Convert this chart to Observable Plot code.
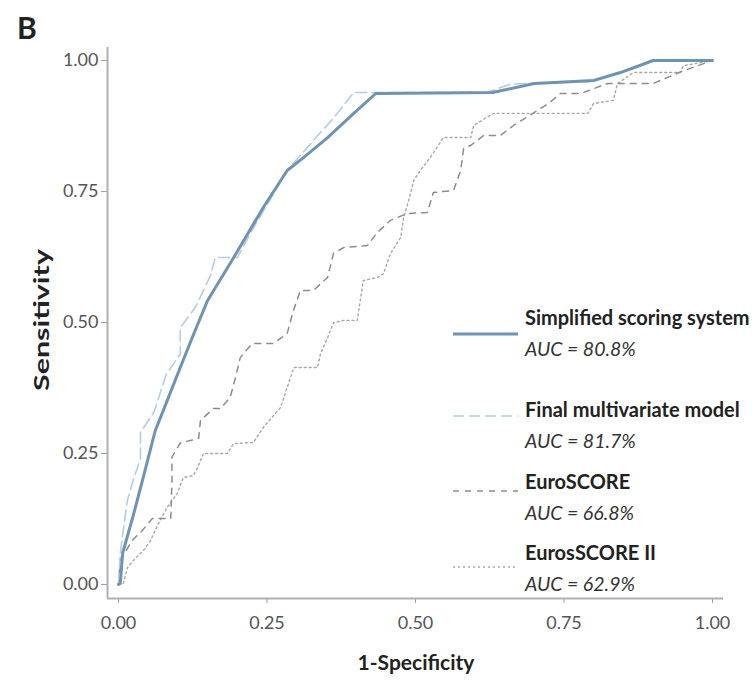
<!DOCTYPE html>
<html>
<head>
<meta charset="utf-8">
<script src="https://cdn.jsdelivr.net/npm/d3@7"></script>
<script src="https://cdn.jsdelivr.net/npm/@observablehq/plot@0.6"></script>
<style>
  body { margin: 0; background: #fff; }
  #wrap { position: relative; width: 756px; height: 685px; font-family: Lato, "Open Sans", sans-serif; }
  #wrap svg { position: absolute; left: 0; top: 0; }
  .abs { position: absolute; white-space: nowrap; line-height: 1; }
</style>
</head>
<body>
<div id="wrap"></div>
<script>
// ---- Data ----
const xTicks = [0, 0.25, 0.5, 0.75, 1];
const xTickLabels = ["0.00", "0.25", "0.50", "0.75", "1.00"];
const yTicks = [0, 0.25, 0.5, 0.75, 1];
const yTickLabels = ["0.00", "0.25", "0.50", "0.75", "1.00"];

const seriesNames = ["Simplified scoring system", "Final multivariate model", "EuroSCORE", "EurosSCORE II"];
const seriesAUC = ["AUC = 80.8%", "AUC = 81.7%", "AUC = 66.8%", "AUC = 62.9%"];

const simplifiedX = [0, 0.003, 0.007, 0.024, 0.043, 0.062, 0.082, 0.104, 0.127, 0.15, 0.194, 0.244, 0.284, 0.312, 0.352, 0.396, 0.433, 0.63, 0.70, 0.80, 0.845, 0.90, 1.0];
const simplifiedY = [0, 0.002, 0.06, 0.128, 0.21, 0.294, 0.351, 0.414, 0.479, 0.542, 0.624, 0.72, 0.79, 0.815, 0.853, 0.899, 0.937, 0.939, 0.956, 0.962, 0.977, 1.0, 1.0];

const finalX = [0, 0.003, 0.01, 0.015, 0.025, 0.037, 0.037, 0.06, 0.08, 0.104, 0.104, 0.13, 0.155, 0.163, 0.20, 0.227, 0.284, 0.33, 0.362, 0.396, 0.62, 0.66, 0.80, 0.88, 0.90, 1.0];
const finalY = [0, 0.06, 0.12, 0.16, 0.2, 0.24, 0.29, 0.33, 0.40, 0.44, 0.49, 0.53, 0.59, 0.624, 0.624, 0.68, 0.79, 0.85, 0.89, 0.939, 0.939, 0.955, 0.96, 0.99, 1.0, 1.0];

const euroX = [0, 0.003, 0.023, 0.04, 0.057, 0.088, 0.09, 0.09, 0.104, 0.135, 0.138, 0.16, 0.172, 0.188, 0.197, 0.205, 0.225, 0.261, 0.284, 0.293, 0.306, 0.328, 0.352, 0.362, 0.379, 0.419, 0.436, 0.458, 0.486, 0.52, 0.53, 0.564, 0.576, 0.581, 0.593, 0.615, 0.643, 0.665, 0.724, 0.744, 0.778, 0.823, 0.90, 0.95, 1.0];
const euroY = [0, 0.046, 0.084, 0.103, 0.126, 0.126, 0.198, 0.243, 0.27, 0.279, 0.313, 0.336, 0.336, 0.357, 0.395, 0.433, 0.46, 0.46, 0.479, 0.517, 0.561, 0.561, 0.586, 0.632, 0.643, 0.647, 0.672, 0.695, 0.708, 0.71, 0.748, 0.752, 0.79, 0.832, 0.838, 0.857, 0.857, 0.876, 0.918, 0.937, 0.937, 0.956, 0.956, 0.98, 1.0];

const euro2X = [0, 0.008, 0.015, 0.025, 0.042, 0.054, 0.067, 0.082, 0.099, 0.109, 0.126, 0.133, 0.143, 0.183, 0.194, 0.227, 0.244, 0.273, 0.284, 0.295, 0.335, 0.34, 0.352, 0.362, 0.379, 0.402, 0.407, 0.412, 0.436, 0.446, 0.458, 0.475, 0.48, 0.49, 0.497, 0.508, 0.525, 0.547, 0.593, 0.598, 0.631, 0.79, 0.8, 0.833, 0.84, 0.867, 0.946, 0.951, 1.0];
const euro2Y = [0, 0.002, 0.032, 0.046, 0.065, 0.084, 0.116, 0.147, 0.174, 0.204, 0.208, 0.223, 0.25, 0.25, 0.269, 0.271, 0.30, 0.338, 0.376, 0.414, 0.414, 0.44, 0.471, 0.5, 0.504, 0.504, 0.542, 0.58, 0.586, 0.593, 0.632, 0.662, 0.70, 0.739, 0.771, 0.79, 0.815, 0.853, 0.853, 0.876, 0.899, 0.899, 0.918, 0.924, 0.956, 0.977, 0.977, 0.99, 1.0];

// ---- Styles ----
const styles = [
  { stroke: "#6f93b3", width: 3, dash: null },
  { stroke: "#b4cde0", width: 1.6, dash: "11,5" },
  { stroke: "#8c8c8c", width: 1.5, dash: "6,6" },
  { stroke: "#a8a8a8", width: 1.4, dash: "2,3" }
];

const toRows = (xs, ys) => xs.map((x, i) => ({ x, y: ys[i] }));
const tables = [
  toRows(simplifiedX, simplifiedY),
  toRows(finalX, finalY),
  toRows(euroX, euroY),
  toRows(euro2X, euro2Y)
];

const xDomain = [-0.0185, 1.0185];
const yDomain = [-0.0267, 1.0248];

const lineMarks = [3, 2, 1, 0].map(i => Plot.line(tables[i], {
  x: "x", y: "y",
  stroke: styles[i].stroke,
  strokeWidth: styles[i].width,
  strokeDasharray: styles[i].dash,
  strokeLinejoin: "round"
}));

const chart = Plot.plot({
  width: 756,
  height: 685,
  marginLeft: 107,
  marginRight: 33,
  marginTop: 47,
  marginBottom: 87,
  style: { fontFamily: "Lato, 'Open Sans', sans-serif", fontSize: "18px", background: "transparent" },
  x: { domain: xDomain },
  y: { domain: yDomain },
  marks: [
    Plot.axisX({ ticks: xTicks, tickFormat: (d, i) => xTickLabels[i], tickSize: 5, tickPadding: 13, label: null, stroke: "#a0a0a0", fill: "#555" }),
    Plot.axisY({ ticks: yTicks, tickFormat: (d, i) => yTickLabels[i], tickSize: 6, tickPadding: 3, label: null, stroke: "#a0a0a0", fill: "#555" }),
    Plot.ruleY([yDomain[0]], { stroke: "#b0b0b0", strokeWidth: 2 }),
    Plot.ruleX([xDomain[0]], { stroke: "#b0b0b0", strokeWidth: 2 }),
    ...lineMarks
  ]
});

const wrap = document.getElementById("wrap");
wrap.appendChild(chart);

function addText(txt, css) {
  const d = document.createElement("div");
  d.className = "abs";
  d.textContent = txt;
  Object.assign(d.style, css);
  wrap.appendChild(d);
  return d;
}

// Panel letter and axis titles
addText("B", { left: "17px", top: "12px", fontSize: "30px", fontWeight: "700", color: "#222" });
addText("1-Specificity", { left: "416px", top: "651px", fontSize: "21px", fontWeight: "700", color: "#222", transform: "translateX(-50%)" });
addText("Sensitivity", { left: "40px", top: "320px", fontSize: "21px", fontWeight: "700", color: "#222", transform: "translate(-50%,-50%) rotate(-90deg) scaleX(1.45)" });

// Legend
const legendTop = [318, 410, 482, 553];
const legendLineY = [334, 416, 491, 567];
seriesNames.forEach((name, i) => {
  const s = styles[i];
  const svgNS = "http://www.w3.org/2000/svg";
  const svg = document.createElementNS(svgNS, "svg");
  svg.setAttribute("width", 70);
  svg.setAttribute("height", 10);
  svg.style.position = "absolute";
  svg.style.left = "451px";
  svg.style.top = (legendLineY[i] - 5) + "px";
  const ln = document.createElementNS(svgNS, "line");
  ln.setAttribute("x1", 2); ln.setAttribute("x2", 67);
  ln.setAttribute("y1", 5); ln.setAttribute("y2", 5);
  ln.setAttribute("stroke", s.stroke);
  ln.setAttribute("stroke-width", s.width);
  if (s.dash) ln.setAttribute("stroke-dasharray", s.dash);
  svg.appendChild(ln);
  wrap.appendChild(svg);
  addText(name, { left: "525px", top: (legendTop[i] - 11) + "px", fontSize: "20px", fontWeight: "700", color: "#222" });
  addText(seriesAUC[i], { left: "525px", top: (legendTop[i] + 21) + "px", fontSize: "19.5px", fontStyle: "italic", color: "#333" });
});
</script>
</body>
</html>
